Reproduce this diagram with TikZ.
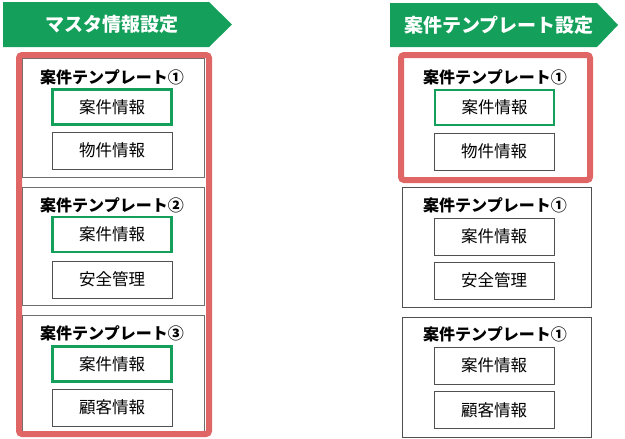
\documentclass[tikz,border=0pt]{standalone}
\usepackage{fontspec}
\setmainfont{Noto Sans CJK JP}
\begin{document}
\begin{tikzpicture}[x=1pt,y=-1pt,
  banner/.style={fill=bannergreen,draw=none},
  bannertext/.style={text=white,font=\fontsize{19}{21}\selectfont\bfseries,inner sep=0pt},
  redframe/.style={draw=framered,line width=6pt,rounded corners=3pt},
  tplbox/.style={draw=boxgray,line width=0.8pt,fill=white},
  tpltitle/.style={font=\fontsize{16}{18}\selectfont\bfseries,inner sep=0pt},
  greenbox/.style={draw=bannergreen,line width=2.8pt,minimum width=119pt,minimum height=35pt,inner sep=0pt,font=\fontsize{16.5}{18}\selectfont},
  graybox/.style={draw=darkgray2,line width=0.9pt,minimum width=120pt,minimum height=37pt,inner sep=0pt,font=\fontsize{16.5}{18}\selectfont}
]
\definecolor{bannergreen}{RGB}{20,160,90}
\definecolor{framered}{RGB}{224,102,102}
\definecolor{boxgray}{RGB}{110,110,110}
\definecolor{darkgray2}{RGB}{80,80,80}
\useasboundingbox (0,0) rectangle (625,439);

% ---------- left banner ----------
\fill[banner] (3,2) -- (209,2) -- (232,24.5) -- (209,47) -- (3,47) -- cycle;
\node[bannertext] (lb) at (112,24.5) {マスタ情報設定};

% ---------- left frame ----------
\draw[tplbox] (22,58) rectangle (204,177);
\draw[tplbox] (22,187) rectangle (204,305);
\draw[tplbox] (22,315) rectangle (204,433);
\draw[redframe] (19,55) rectangle (209,434);

\node[tpltitle] (lt1) at (112,77) {案件テンプレート①};
\node[greenbox] (lg1) at (112,107) {案件情報};
\node[graybox] (lp1) at (112,150.5) {物件情報};

\node[tpltitle] (lt2) at (112,205) {案件テンプレート②};
\node[greenbox] (lg2) at (112,234.5) {案件情報};
\node[graybox] (lp2) at (112,279.5) {安全管理};

\node[tpltitle] (lt3) at (112,333) {案件テンプレート③};
\node[greenbox] (lg3) at (112,364) {案件情報};
\node[graybox] (lp3) at (112,407.5) {顧客情報};

% ---------- right banner ----------
\fill[banner] (390,3) -- (597,3) -- (618,25) -- (597,47) -- (390,47) -- cycle;
\node[bannertext] (rb) at (499,25) {案件テンプレート設定};

% ---------- right frames ----------
\draw[redframe,fill=white] (401,55) rectangle (590,180);
\node[tpltitle] (rt1) at (495,77) {案件テンプレート①};
\node[greenbox] (rg1) at (494.5,107.5) {案件情報};
\node[graybox] (rp1) at (494,151.5) {物件情報};

\draw[tplbox,draw=darkgray2] (402,187) rectangle (591,307);
\node[tpltitle] (rt2) at (495,205) {案件テンプレート①};
\node[graybox] (rg2) at (494,236.5) {案件情報};
\node[graybox] (rp2) at (494,280.5) {安全管理};

\draw[tplbox,draw=darkgray2] (402,317) rectangle (591,437);
\node[tpltitle] (rt3) at (495,334) {案件テンプレート①};
\node[graybox] (rg3) at (494,365.5) {案件情報};
\node[graybox] (rp3) at (494,410) {顧客情報};
\end{tikzpicture}
\end{document}
